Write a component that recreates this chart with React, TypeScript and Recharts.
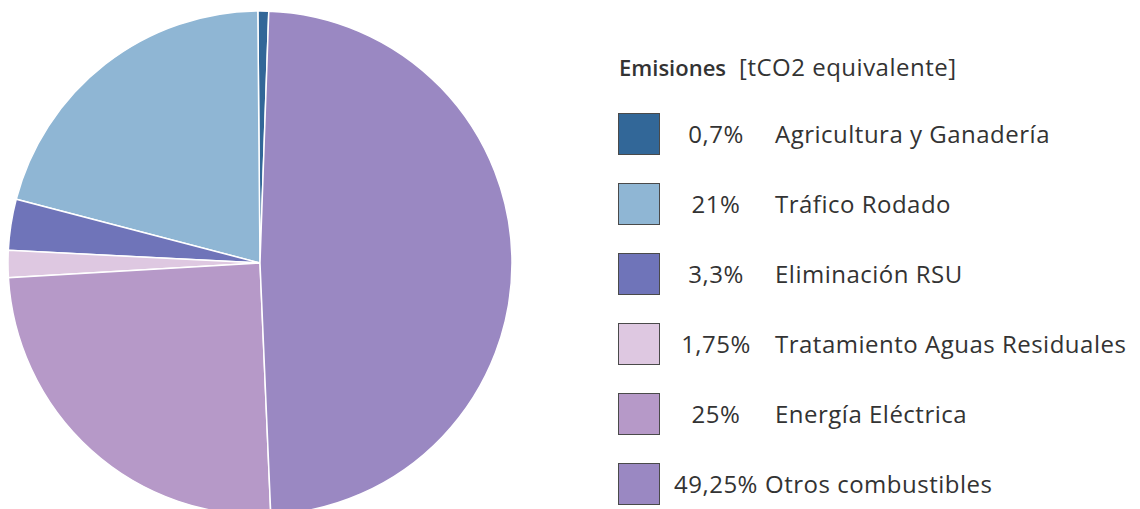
import { PieChart, Pie, Cell, Legend } from 'recharts'

const categories = [
  'Agricultura y Ganadería',
  'Tráfico Rodado',
  'Eliminación RSU',
  'Tratamiento Aguas Residuales',
  'Energía Eléctrica',
  'Otros combustibles',
]
const shares = [0.7, 21, 3.3, 1.75, 25, 49.25]
const shareLabels = ['0,7%', '21%', '3,3%', '1,75%', '25%', '49,25%']
const colors = ['#326798', '#8fb6d4', '#6f74b9', '#dec8e1', '#b699c8', '#9a88c2']

const data = categories.map((name, i) => ({ name, value: shares[i] }))

const font = '"Open Sans", "Noto Sans", sans-serif'

function EmissionsLegend() {
  return (
    <div style={{ position: 'relative', width: 1140, height: 509, fontFamily: font, color: '#333' }}>
      <div style={{ position: 'absolute', left: 619, top: 51, whiteSpace: 'nowrap', lineHeight: '32px' }}>
        <span style={{ fontWeight: 600, fontSize: 22 }}>Emisiones</span>
        <span style={{ marginLeft: 13, fontSize: 24, letterSpacing: 0.5 }}>[tCO2 equivalente]</span>
      </div>
      {categories.map((name, i) => (
        <div key={name} style={{ position: 'absolute', left: 618, top: 113 + i * 70, height: 42, width: 520 }}>
          <div
            style={{
              position: 'absolute',
              left: 0,
              top: 0,
              width: 40,
              height: 40,
              background: colors[i],
              border: '1px solid #4a4a4a',
            }}
          />
          <div
            style={{
              position: 'absolute',
              left: 50,
              width: 96,
              top: 5,
              lineHeight: '32px',
              textAlign: 'center',
              fontSize: 24,
              letterSpacing: 0.5,
              whiteSpace: 'nowrap',
            }}
          >
            {shareLabels[i]}
          </div>
          <div
            style={{
              position: 'absolute',
              left: i === 5 ? 147 : 157,
              top: 5,
              lineHeight: '32px',
              fontSize: 24,
              letterSpacing: 0.5,
              whiteSpace: 'nowrap',
            }}
          >
            {name}
          </div>
        </div>
      ))}
    </div>
  )
}

export default function App() {
  return (
    <div style={{ position: 'absolute', left: 0, top: 0, width: 1140, height: 509, background: '#fff' }}>
      <PieChart width={1140} height={509} margin={{ top: 0, right: 0, bottom: 0, left: 0 }}>
        <Pie
          data={data}
          dataKey="value"
          nameKey="name"
          cx={260}
          cy={263}
          outerRadius={252}
          startAngle={88}
          endAngle={448}
          stroke="#ffffff"
          strokeWidth={1.5}
          isAnimationActive={false}
        >
          {data.map((d, i) => (
            <Cell key={d.name} fill={colors[i]} />
          ))}
        </Pie>
        <Legend
          content={() => <EmissionsLegend />}
          wrapperStyle={{ position: 'absolute', left: 0, top: 0, width: 1140, height: 509 }}
        />
      </PieChart>
    </div>
  )
}
